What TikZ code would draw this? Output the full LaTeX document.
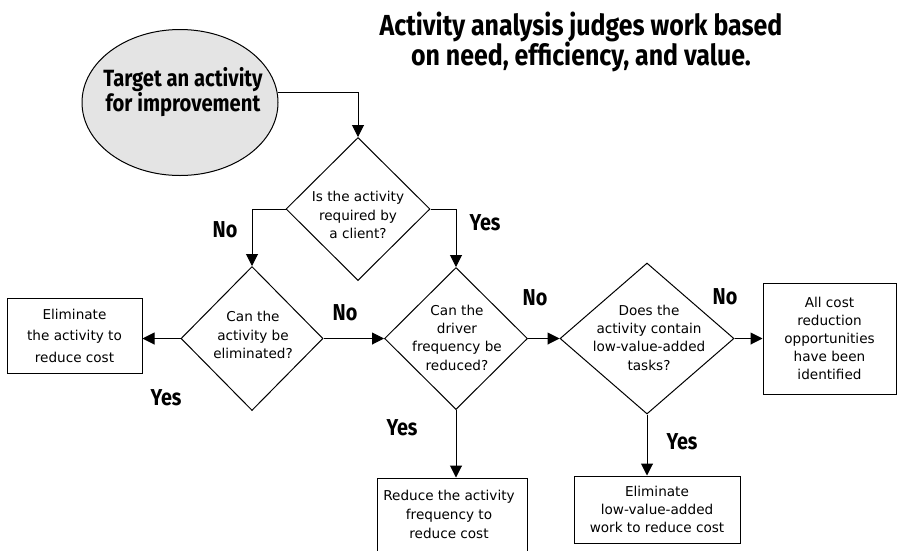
\documentclass[tikz,border=0pt]{standalone}
\usepackage{fontspec}
\usetikzlibrary{shapes.geometric,arrows.meta}
\newfontfamily\bodyfont{DejaVu Sans}
\newfontfamily\headfont{Fira Sans}[FakeStretch=0.86]
\definecolor{ellfill}{RGB}{228,228,228}
\begin{document}
\begin{tikzpicture}[x=1pt,y=-1pt,
  dia/.style={diamond, draw=black, line width=1pt, inner sep=0pt},
  box/.style={rectangle, draw=black, line width=1pt, inner sep=0pt, align=center,
    font=\bodyfont\fontsize{13.6}{18}\selectfont},
  txt/.style={align=center, inner sep=0pt, font=\bodyfont\fontsize{13.6}{18.3}\selectfont},
  lab/.style={inner sep=0pt, font=\headfont\bfseries\fontsize{23}{23}\selectfont},
  arr/.style={-{Triangle[length=12pt,width=12pt]}, line width=1pt}]
\clip (0,0) rectangle (897,550);

% title
\node[align=center, inner sep=0pt, font=\headfont\bfseries\fontsize{29}{30}\selectfont]
  (title) at (581,42) {Activity analysis judges work based\\on need, efficiency, and value.};

% start ellipse
\node[ellipse, draw=black, line width=1pt, fill=ellfill, inner sep=0pt,
  minimum width=196pt, minimum height=146pt] (start) at (180,102.5) {};
\node[align=center, inner sep=0pt, font=\headfont\bfseries\fontsize{23.5}{22}\selectfont]
  (starttext) at (183,92) {Target an activity\\for improvement};

% decisions
\node[dia, minimum width=144pt, minimum height=143pt] (d1) at (358,209) {};
\node[txt] (d1t) at (358,215) {Is the activity\\required by\\a client?};

\node[dia, minimum width=142pt, minimum height=144pt] (d2) at (252,338.5) {};
\node[txt] (d2t) at (253,335) {Can the\\activity be\\eliminated?};

\node[dia, minimum width=143pt, minimum height=142pt] (d3) at (456,338.5) {};
\node[txt] (d3t) at (457,337.5) {Can the\\driver\\frequency be\\reduced?};

\node[dia, minimum width=174pt, minimum height=151pt] (d4) at (647,338.5) {};
\node[txt] (d4t) at (649,337.5) {Does the\\activity contain\\low-value-added\\tasks?};

% boxes
\node[box, minimum width=135pt, minimum height=75pt,
  font=\bodyfont\fontsize{13.6}{21.5}\selectfont] (b1) at (74.5,335.5)
  {Eliminate\\the activity to\\reduce cost};

\node[box, minimum width=150pt, minimum height=84pt] (b2) at (452,520) {};
\node[txt, font=\bodyfont\fontsize{13.6}{19}\selectfont] (b2t) at (449,514)
  {Reduce the activity\\frequency to\\reduce cost};

\node[box, minimum width=166pt, minimum height=67pt] (b3) at (657,509.5)
  {Eliminate\\low-value-added\\work to reduce cost};

\node[box, minimum width=133pt, minimum height=111pt] (b4) at (829.5,338.5)
  {All cost\\reduction\\opportunities\\have been\\identified};

% connectors
\draw[arr] (start.6) -| (d1.north);
\draw[arr] (d1.west) -| (d2.north);
\draw[arr] (d1.east) -| (d3.north);
\draw[arr] (d2.west) -- (d2.west -| b1.east);
\draw[arr] (d2.east) -- (d3.west);
\draw[arr] (d3.east) -- (d4.west);
\draw[arr] (d4.east) -- (d4.east -| b4.west);
\draw[arr] (d3.south) -- (d3.south |- b2.north);
\draw[arr] (d4.south) -- (d4.south |- b3.north);

% labels
\node[lab] (l1) at (225,230) {No};
\node[lab] (l2) at (485,223) {Yes};
\node[lab] (l3) at (345,313) {No};
\node[lab] (l4) at (166,398) {Yes};
\node[lab] (l5) at (535,298) {No};
\node[lab] (l6) at (725,297) {No};
\node[lab] (l7) at (402,428) {Yes};
\node[lab] (l8) at (682,442) {Yes};
\end{tikzpicture}
\end{document}
